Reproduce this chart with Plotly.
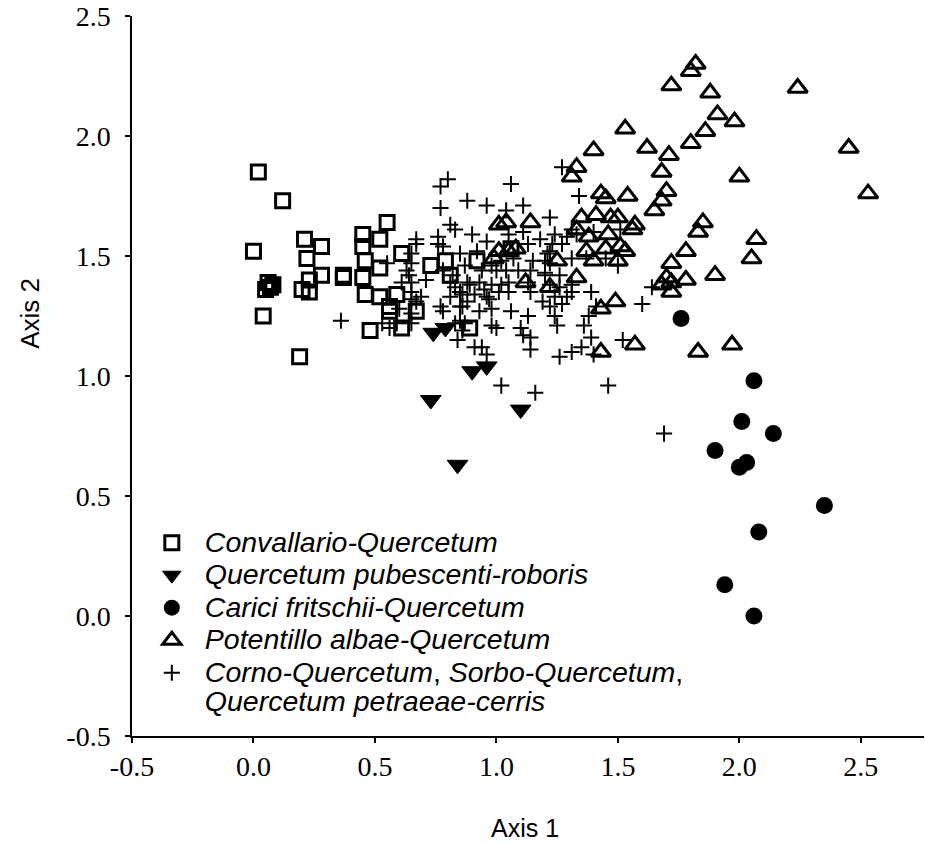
import plotly.graph_objects as go

# ---- data (Axis 1, Axis 2 scores) ----
conv_x = [0.02, 0.12, 0.00, 0.21, 0.28, 0.22, 0.28, 0.23, 0.20, 0.23, 0.06, 0.07, 0.05, 0.08,
          0.04, 0.19, 0.37, 0.37, 0.45, 0.45, 0.52, 0.55, 0.46, 0.45, 0.52, 0.46, 0.52, 0.61,
          0.59, 0.56, 0.56, 0.67, 0.61, 0.48, 0.73, 0.79, 0.89, 0.92, 0.81, 1.06]
conv_y = [1.85, 1.73, 1.52, 1.57, 1.54, 1.49, 1.42, 1.40, 1.36, 1.35, 1.39, 1.37, 1.36, 1.38,
          1.25, 1.08, 1.42, 1.41, 1.59, 1.54, 1.57, 1.64, 1.48, 1.41, 1.45, 1.34, 1.33, 1.51,
          1.34, 1.29, 1.27, 1.27, 1.20, 1.19, 1.46, 1.48, 1.20, 1.48, 1.42, 1.53]

pub_x = [0.74, 0.79, 0.90, 0.96, 0.73, 1.10, 0.84]
pub_y = [1.18, 1.20, 1.02, 1.04, 0.90, 0.86, 0.63]

car_x = [1.76, 2.06, 2.01, 2.14, 1.90, 2.00, 2.03, 2.35, 2.08, 1.94, 2.06]
car_y = [1.24, 0.98, 0.81, 0.76, 0.69, 0.62, 0.64, 0.46, 0.35, 0.13, 0.00]

pot_x = [1.82, 1.80, 1.72, 1.88, 2.24, 1.91, 1.98, 1.86, 1.53, 1.40, 1.62, 1.71, 1.80, 2.45,
         1.33, 1.31, 1.68, 2.00, 2.53, 1.70, 1.68, 1.65, 1.43, 1.45, 1.54, 1.35, 1.41, 1.47,
         1.50, 1.57, 1.56, 1.85, 1.83, 2.07, 2.05, 1.78, 1.72, 1.33, 1.38, 1.46, 1.37, 1.45,
         1.51, 1.53, 1.40, 1.50, 1.25, 1.33, 1.22, 1.70, 1.68, 1.72, 1.78, 1.90, 1.49, 1.43,
         1.57, 1.43, 1.83, 1.97, 1.01, 1.04, 1.14, 1.01, 1.05, 1.08, 0.99, 1.12, 1.72]
pot_y = [2.30, 2.27, 2.21, 2.18, 2.20, 2.09, 2.06, 2.02, 2.03, 1.94, 1.95, 1.92, 1.97, 1.95,
         1.87, 1.83, 1.85, 1.83, 1.76, 1.77, 1.73, 1.69, 1.76, 1.74, 1.75, 1.66, 1.67, 1.66,
         1.66, 1.63, 1.61, 1.64, 1.60, 1.57, 1.49, 1.52, 1.47, 1.61, 1.58, 1.59, 1.52, 1.53,
         1.54, 1.52, 1.48, 1.48, 1.48, 1.41, 1.37, 1.41, 1.38, 1.35, 1.40, 1.42, 1.31, 1.28,
         1.13, 1.10, 1.10, 1.13, 1.63, 1.64, 1.64, 1.52, 1.52, 1.53, 1.49, 1.39, 1.39]

cor_x = [0.36, 0.53, 0.56, 0.59, 0.60, 0.61, 0.63, 0.65, 0.65, 0.65, 0.65, 0.65, 0.65, 0.65,
         0.67, 0.67, 0.67, 0.64, 0.55, 0.69, 0.71, 0.76, 0.76, 0.77, 0.77, 0.77, 0.78, 0.78,
         0.78, 0.80, 0.81, 0.81, 0.81, 0.82, 0.83, 0.83, 0.83, 0.84, 0.85, 0.85, 0.85, 0.85,
         0.86, 0.86, 0.86, 0.87, 0.87, 0.88, 0.88, 0.88, 0.89, 0.90, 0.91, 0.91, 0.92, 0.94,
         0.96, 0.93, 0.93, 0.94, 0.95, 0.96, 0.96, 0.96, 0.97, 0.98, 0.98, 0.98, 0.98, 1.00,
         1.00, 1.01, 1.02, 1.02, 1.02, 1.04, 1.04, 1.05, 1.05, 1.05, 1.06, 1.06, 1.07, 1.09,
         1.10, 1.11, 1.11, 1.11, 1.13, 1.13, 1.13, 1.14, 1.14, 1.14, 1.14, 1.15, 1.16, 1.18,
         1.19, 1.20, 1.20, 1.20, 1.21, 1.22, 1.22, 1.22, 1.22, 1.22, 1.23, 1.24, 1.24, 1.24,
         1.25, 1.26, 1.26, 1.26, 1.27, 1.27, 1.27, 1.29, 1.29, 1.31, 1.31, 1.31, 1.31, 1.31,
         1.33, 1.34, 1.35, 1.36, 1.37, 1.38, 1.39, 1.39, 1.40, 1.40, 1.41, 1.45, 1.46, 1.50,
         1.51, 1.52, 1.60, 1.64, 1.69]
cor_y = [1.23, 1.22, 1.20, 1.22, 1.28, 1.39, 1.44, 1.51, 1.39, 1.32, 1.22, 1.47, 1.35, 1.26,
         1.57, 1.55, 1.31, 1.42, 1.47, 1.33, 1.40, 1.58, 1.55, 1.79, 1.70, 1.29, 1.54, 1.44,
         1.27, 1.82, 1.63, 1.33, 1.39, 1.42, 1.61, 1.22, 1.37, 1.15, 1.51, 1.35, 1.29, 1.23,
         1.34, 1.29, 1.19, 1.22, 1.46, 1.39, 1.31, 1.73, 1.38, 1.59, 1.34, 1.12, 1.52, 1.12,
         1.09, 1.39, 1.27, 1.44, 1.36, 1.71, 1.56, 1.33, 1.32, 1.28, 1.21, 1.46, 1.38, 1.20,
         1.44, 1.35, 1.48, 1.38, 0.96, 1.69, 1.44, 1.59, 1.39, 1.35, 1.27, 1.80, 1.49, 1.44,
         1.20, 1.71, 1.60, 1.17, 1.55, 1.25, 1.39, 1.44, 1.35, 1.16, 1.11, 1.48, 0.93, 1.57,
         1.31, 1.43, 1.48, 1.42, 1.51, 1.47, 1.38, 1.29, 1.66, 1.52, 1.55, 1.59, 1.33, 1.25,
         1.21, 1.42, 1.37, 1.08, 1.87, 1.55, 1.30, 1.58, 1.33, 1.61, 1.35, 1.49, 1.38, 1.10,
         1.59, 1.75, 1.12, 1.21, 1.49, 1.25, 1.16, 1.35, 1.60, 1.09, 1.29, 1.49, 0.96, 1.46,
         1.61, 1.15, 1.30, 1.37, 0.76]

names = [
    "<i>Convallario-Quercetum</i>",
    "<i>Quercetum pubescenti-roboris</i>",
    "<i>Carici fritschii-Quercetum</i>",
    "<i>Potentillo albae-Quercetum</i>",
    "<i>Corno-Quercetum</i>, <i>Sorbo-Quercetum</i>,<br><i>Quercetum petraeae-cerris</i>",
]

x_ticks = [-0.5, 0.0, 0.5, 1.0, 1.5, 2.0, 2.5]
y_ticks = [-0.5, 0.0, 0.5, 1.0, 1.5, 2.0, 2.5]

BLACK = "#000000"

def lg(t):
    return '<span style="font-size:28.5px">' + t + '</span>'

fig = go.Figure()
fig.add_trace(go.Scatter(x=conv_x, y=conv_y, mode="markers", name=lg(names[0]),
                         marker=dict(symbol="square-open", size=14, color=BLACK,
                                     line=dict(width=3, color=BLACK))))
fig.add_trace(go.Scatter(x=pub_x, y=pub_y, mode="markers", name=lg(names[1]),
                         marker=dict(symbol="triangle-down", size=18, color=BLACK,
                                     line=dict(width=1, color=BLACK))))
fig.add_trace(go.Scatter(x=car_x, y=car_y, mode="markers", name=lg(names[2]),
                         marker=dict(symbol="circle", size=17, color=BLACK,
                                     line=dict(width=0, color=BLACK))))
fig.add_trace(go.Scatter(x=pot_x, y=pot_y, mode="markers", name=lg(names[3]),
                         marker=dict(symbol="triangle-up-open", size=17, color=BLACK,
                                     line=dict(width=3, color=BLACK))))
fig.add_trace(go.Scatter(x=cor_x, y=cor_y, mode="markers", name=lg(names[4]),
                         marker=dict(symbol="cross-thin", size=11.5, color=BLACK,
                                     line=dict(width=2, color=BLACK))))

axis_common = dict(showgrid=False, zeroline=False, showline=True, linecolor=BLACK,
                   linewidth=1.5, ticks="outside", ticklen=5, tickwidth=1.5,
                   tickcolor=BLACK, mirror=False, ticklabeloverflow="allow",
                   automargin=False,
                   tickfont=dict(family="Liberation Serif", size=28, color=BLACK))

fig.update_layout(
    width=925, height=844,
    margin=dict(l=132, r=1, t=16, b=108),
    paper_bgcolor="white", plot_bgcolor="white",
    showlegend=True,
    legend=dict(x=0.0086, y=0.298, xanchor="left", yanchor="top",
                bgcolor="rgba(0,0,0,0)", borderwidth=0,
                font=dict(family="Liberation Sans", size=22.7, color=BLACK),
                itemwidth=56, valign="top", tracegroupgap=0),
    xaxis=dict(range=[-0.5, 2.76], tickvals=x_ticks,
               ticktext=[f"{v:.1f}" for v in x_ticks], **axis_common),
    yaxis=dict(range=[-0.5, 2.5], tickvals=y_ticks, ticklabelstandoff=9,
               ticktext=[f"{v:.1f}" for v in y_ticks], **axis_common),
    annotations=[
        dict(text="Axis 1", xref="paper", yref="paper", x=0.4956, y=-0.1278,
             xanchor="center", yanchor="middle",
             showarrow=False, font=dict(family="Liberation Sans", size=25, color=BLACK)),
        dict(text="Axis 2", xref="paper", yref="paper", x=-0.1286, y=0.5865,
             xanchor="center", yanchor="middle",
             textangle=-90, showarrow=False,
             font=dict(family="Liberation Sans", size=26, color=BLACK)),
    ],
)

fig.write_html("out.html", config={"displayModeBar": False},
               post_script="document.body.style.margin='0';")
